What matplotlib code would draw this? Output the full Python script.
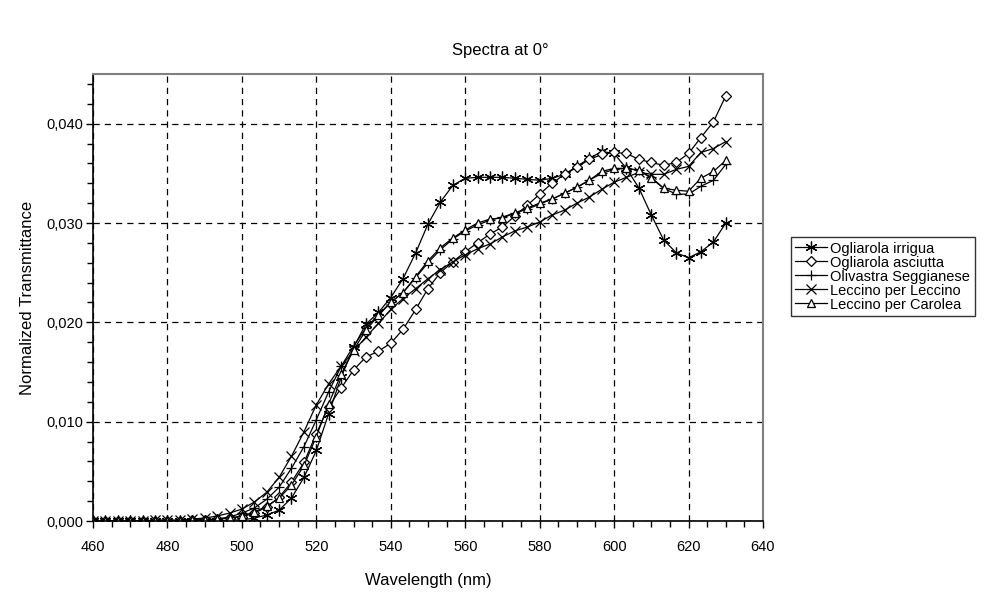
"""Recreate the 'Spectra at 0°' transmittance chart as out.png."""

import matplotlib

matplotlib.use("Agg")

import matplotlib.pyplot as plt  # noqa: E402
from matplotlib.ticker import FuncFormatter, MultipleLocator  # noqa: E402

OUTPUT = "out.png"

# Wavelengths sampled (nm)
WAVELENGTHS = [
    460.0, 463.3, 466.7, 470.0, 473.3, 476.7, 480.0, 483.3, 486.7, 490.0,
    493.3, 496.7, 500.0, 503.3, 506.7, 510.0, 513.3, 516.7, 520.0, 523.3,
    526.7, 530.0, 533.3, 536.7, 540.0, 543.3, 546.7, 550.0, 553.3, 556.7,
    560.0, 563.3, 566.7, 570.0, 573.3, 576.7, 580.0, 583.3, 586.7, 590.0,
    593.3, 596.7, 600.0, 603.3, 606.7, 610.0, 613.3, 616.7, 620.0, 623.3,
    626.7, 630.0,
]

# Normalized transmittance, values
OGLIAROLA_IRRIGUA = [
    0.0000, 0.0000, 0.0000, 0.0000, 0.0000, 0.0000, 0.0000, 0.0000, 0.0000, 0.0000,
    0.0000, 0.0001, 0.0001, 0.0003, 0.0006, 0.0011, 0.0023, 0.0044, 0.0071, 0.0108,
    0.0145, 0.0175, 0.0198, 0.0210, 0.0225, 0.0244, 0.0270, 0.0299, 0.0321, 0.0338,
    0.0345, 0.0346, 0.0346, 0.0346, 0.0345, 0.0344, 0.0343, 0.0345, 0.0349, 0.0357,
    0.0365, 0.0372, 0.0370, 0.0355, 0.0335, 0.0308, 0.0283, 0.0270, 0.0265, 0.0271,
    0.0281, 0.0300,
]
OGLIAROLA_ASCIUTTA = [
    0.0000, 0.0000, 0.0000, 0.0000, 0.0000, 0.0000, 0.0000, 0.0000, 0.0001, 0.0001,
    0.0002, 0.0003, 0.0004, 0.0008, 0.0014, 0.0024, 0.0039, 0.0059, 0.0088, 0.0115,
    0.0134, 0.0152, 0.0165, 0.0171, 0.0179, 0.0193, 0.0213, 0.0234, 0.0250, 0.0261,
    0.0271, 0.0280, 0.0289, 0.0296, 0.0307, 0.0318, 0.0329, 0.0340, 0.0349, 0.0356,
    0.0364, 0.0369, 0.0371, 0.0370, 0.0364, 0.0361, 0.0358, 0.0361, 0.0370, 0.0386,
    0.0402, 0.0428,
]
OLIVASTRA_SEGGIANESE = [
    0.0000, 0.0000, 0.0000, 0.0000, 0.0000, 0.0000, 0.0000, 0.0000, 0.0001, 0.0001,
    0.0002, 0.0004, 0.0008, 0.0013, 0.0022, 0.0034, 0.0053, 0.0075, 0.0102, 0.0130,
    0.0156, 0.0176, 0.0194, 0.0208, 0.0220, 0.0230, 0.0245, 0.0260, 0.0273, 0.0284,
    0.0292, 0.0298, 0.0303, 0.0306, 0.0310, 0.0314, 0.0319, 0.0324, 0.0330, 0.0336,
    0.0343, 0.0350, 0.0354, 0.0355, 0.0353, 0.0346, 0.0335, 0.0329, 0.0329, 0.0337,
    0.0343, 0.0359,
]
LECCINO_PER_LECCINO = [
    0.0000, 0.0000, 0.0000, 0.0000, 0.0000, 0.0001, 0.0001, 0.0001, 0.0002, 0.0003,
    0.0005, 0.0008, 0.0012, 0.0019, 0.0029, 0.0044, 0.0065, 0.0090, 0.0117, 0.0138,
    0.0156, 0.0171, 0.0185, 0.0199, 0.0213, 0.0224, 0.0234, 0.0244, 0.0253, 0.0261,
    0.0268, 0.0274, 0.0279, 0.0286, 0.0292, 0.0296, 0.0301, 0.0308, 0.0313, 0.0320,
    0.0326, 0.0334, 0.0341, 0.0346, 0.0351, 0.0349, 0.0349, 0.0354, 0.0357, 0.0371,
    0.0375, 0.0382,
]
LECCINO_PER_CAROLEA = [
    0.0000, 0.0000, 0.0000, 0.0000, 0.0000, 0.0000, 0.0000, 0.0000, 0.0001, 0.0001,
    0.0002, 0.0003, 0.0005, 0.0009, 0.0015, 0.0023, 0.0036, 0.0056, 0.0085, 0.0118,
    0.0148, 0.0172, 0.0192, 0.0207, 0.0220, 0.0230, 0.0246, 0.0262, 0.0275, 0.0285,
    0.0293, 0.0300, 0.0304, 0.0305, 0.0310, 0.0315, 0.0320, 0.0324, 0.0330, 0.0336,
    0.0343, 0.0352, 0.0355, 0.0355, 0.0353, 0.0345, 0.0335, 0.0333, 0.0332, 0.0345,
    0.0352, 0.0363,
]

SERIES_NAMES = [
    "Ogliarola irrigua",
    "Ogliarola asciutta",
    "Olivastra Seggianese",
    "Leccino per Leccino",
    "Leccino per Carolea",
]

plt.rcParams["font.family"] = ["Liberation Sans", "DejaVu Sans"]


def comma_fmt(val, pos):
    return f"{val:.3f}".replace(".", ",")


def main() -> None:
    fig = plt.figure(figsize=(10.0, 5.93), dpi=100)
    ax = fig.add_axes([0.093, 0.1214, 0.670, 0.7538])

    series = [
        OGLIAROLA_IRRIGUA,
        OGLIAROLA_ASCIUTTA,
        OLIVASTRA_SEGGIANESE,
        LECCINO_PER_LECCINO,
        LECCINO_PER_CAROLEA,
    ]
    # marker, size, face colour
    styles = [
        ((6, 2, 0), 8.5, "black"),
        ("D", 4.8, "white"),
        ("+", 7, "black"),
        ("x", 6.5, "black"),
        ("^", 5.8, "white"),
    ]
    for vals, name, (mk, ms, fc) in zip(series, SERIES_NAMES, styles):
        ax.plot(WAVELENGTHS, vals, color="black", lw=0.9, marker=mk,
                markersize=ms, markerfacecolor=fc, markeredgecolor="black",
                markeredgewidth=0.9, label=name)

    ax.set_xlim(460, 640)
    ax.set_ylim(0, 0.045)
    ax.xaxis.set_major_locator(MultipleLocator(20))
    ax.xaxis.set_minor_locator(MultipleLocator(5))
    ax.yaxis.set_major_locator(MultipleLocator(0.01))
    ax.yaxis.set_minor_locator(MultipleLocator(0.002))
    ax.yaxis.set_major_formatter(FuncFormatter(comma_fmt))
    ax.tick_params(which="both", direction="out", labelsize=10.5, width=1)
    ax.tick_params(which="major", length=5)
    ax.tick_params(which="minor", length=4)
    ax.tick_params(axis="x", which="major", pad=9)
    ax.tick_params(axis="y", which="major", pad=2)

    ax.grid(True, which="major", color="black", linestyle=(0, (5, 4)), lw=0.9)
    ax.set_axisbelow(True)

    for side in ("top", "right"):
        ax.spines[side].set_color("#808080")
        ax.spines[side].set_linewidth(1.5)
    for side in ("left", "bottom"):
        ax.spines[side].set_linewidth(1.2)

    ax.set_xlabel("Wavelength (nm)", fontsize=12, labelpad=13)
    ax.set_ylabel("Normalized Transmittance", fontsize=12, labelpad=8)
    fig.suptitle("Spectra at 0°", fontsize=12, y=0.928)

    leg = fig.legend(loc="upper left", bbox_to_anchor=(0.791, 0.600),
                     fontsize=10.5, frameon=True, fancybox=False,
                     borderpad=0.3, labelspacing=0.0, handlelength=2.2,
                     handletextpad=0.2, borderaxespad=0)
    leg.get_frame().set_edgecolor("black")
    leg.get_frame().set_linewidth(1.0)

    fig.savefig(OUTPUT, dpi=100)
    plt.close(fig)


if __name__ == "__main__":
    main()
